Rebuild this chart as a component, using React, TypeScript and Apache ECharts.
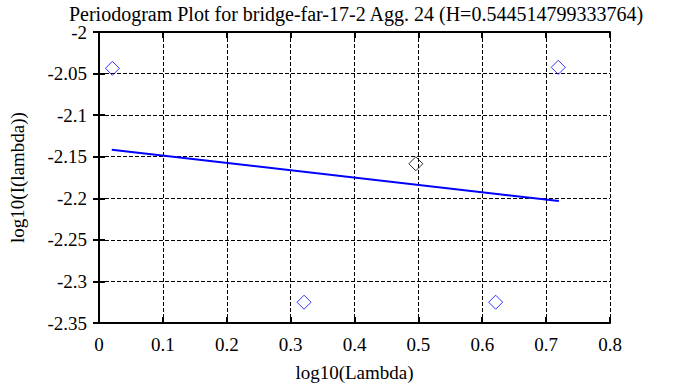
import React, { useEffect, useRef } from "react";
import * as echarts from "echarts";

const titleText = "Periodogram Plot for bridge-far-17-2 Agg. 24 (H=0.544514799333764)";
const xName = "log10(Lambda)";
const yName = "log10(I(lambda))";

// periodogram points (log10 lambda, log10 I)
const blueX = [0.021, 0.321, 0.621, 0.719];
const blueY = [-2.0437, -2.325, -2.325, -2.0425];
const blackX = [0.496];
const blackY = [-2.1585];
// fitted line endpoints
const fitX = [0.02, 0.72];
const fitY = [-2.1417, -2.2033];

const FONT = "Times New Roman";
const FS = 19;

export default function App() {
  const ref = useRef<HTMLDivElement>(null);
  useEffect(() => {
    if (!ref.current) return;
    const chart = echarts.init(ref.current, null, { renderer: "svg" });
    const axisLine = { show: true, lineStyle: { color: "black", width: 2 } };
    const splitLine = { show: true, lineStyle: { color: "black", type: "dashed", width: 1 } };
    const tick = { show: true, inside: true, length: 6, lineStyle: { color: "black", width: 2 } };
    chart.setOption({
      animation: false,
      textStyle: { fontFamily: FONT },
      title: {
        text: titleText,
        left: 351,
        top: -1,
        textAlign: "center",
        textStyle: { fontFamily: FONT, fontSize: 20, fontWeight: "normal", color: "black" },
      },
      grid: { left: 92, right: 78, top: 32, bottom: 56 },
      xAxis: [
        {
          type: "value",
          min: 0,
          max: 0.8,
          interval: 0.1,
          position: "bottom",
          name: xName,
          nameLocation: "middle",
          nameGap: 40,
          nameTextStyle: { fontFamily: FONT, fontSize: FS, color: "black" },
          axisLine,
          axisTick: tick,
          splitLine,
          axisLabel: { fontFamily: FONT, fontSize: FS, color: "black", margin: 12 },
        },
        {
          type: "value",
          min: 0,
          max: 0.8,
          interval: 0.1,
          position: "top",
          axisLine,
          axisTick: tick,
          splitLine: { show: false },
          axisLabel: { show: false },
        },
      ],
      yAxis: [
        {
          type: "value",
          min: -2.35,
          max: -2,
          interval: 0.05,
          position: "left",
          name: yName,
          nameLocation: "middle",
          nameGap: 72,
          nameRotate: 90,
          nameTextStyle: { fontFamily: FONT, fontSize: FS, color: "black" },
          axisLine,
          axisTick: tick,
          splitLine,
          axisLabel: { fontFamily: FONT, fontSize: FS, color: "black", margin: 12 },
        },
        {
          type: "value",
          min: -2.35,
          max: -2,
          interval: 0.05,
          position: "right",
          axisLine,
          axisTick: tick,
          splitLine: { show: false },
          axisLabel: { show: false },
        },
      ],
      series: [
        {
          type: "line",
          data: fitX.map((x, i) => [x, fitY[i]]),
          symbol: "none",
          lineStyle: { color: "#0000ff", width: 2 },
          z: 3,
        },
        {
          type: "scatter",
          data: blueX.map((x, i) => [x, blueY[i]]),
          symbol: "diamond",
          symbolSize: [14, 14],
          itemStyle: { color: "rgba(255,255,255,0)", borderColor: "#0000ff", borderWidth: 1 },
          z: 4,
        },
        {
          type: "scatter",
          data: blackX.map((x, i) => [x, blackY[i]]),
          symbol: "diamond",
          symbolSize: [14, 14],
          itemStyle: { color: "rgba(255,255,255,0)", borderColor: "black", borderWidth: 1 },
          z: 4,
        },
      ],
    });
    return () => chart.dispose();
  }, []);
  return <div ref={ref} style={{ width: 688, height: 387, position: "absolute", left: 0, top: 0 }} />;
}
